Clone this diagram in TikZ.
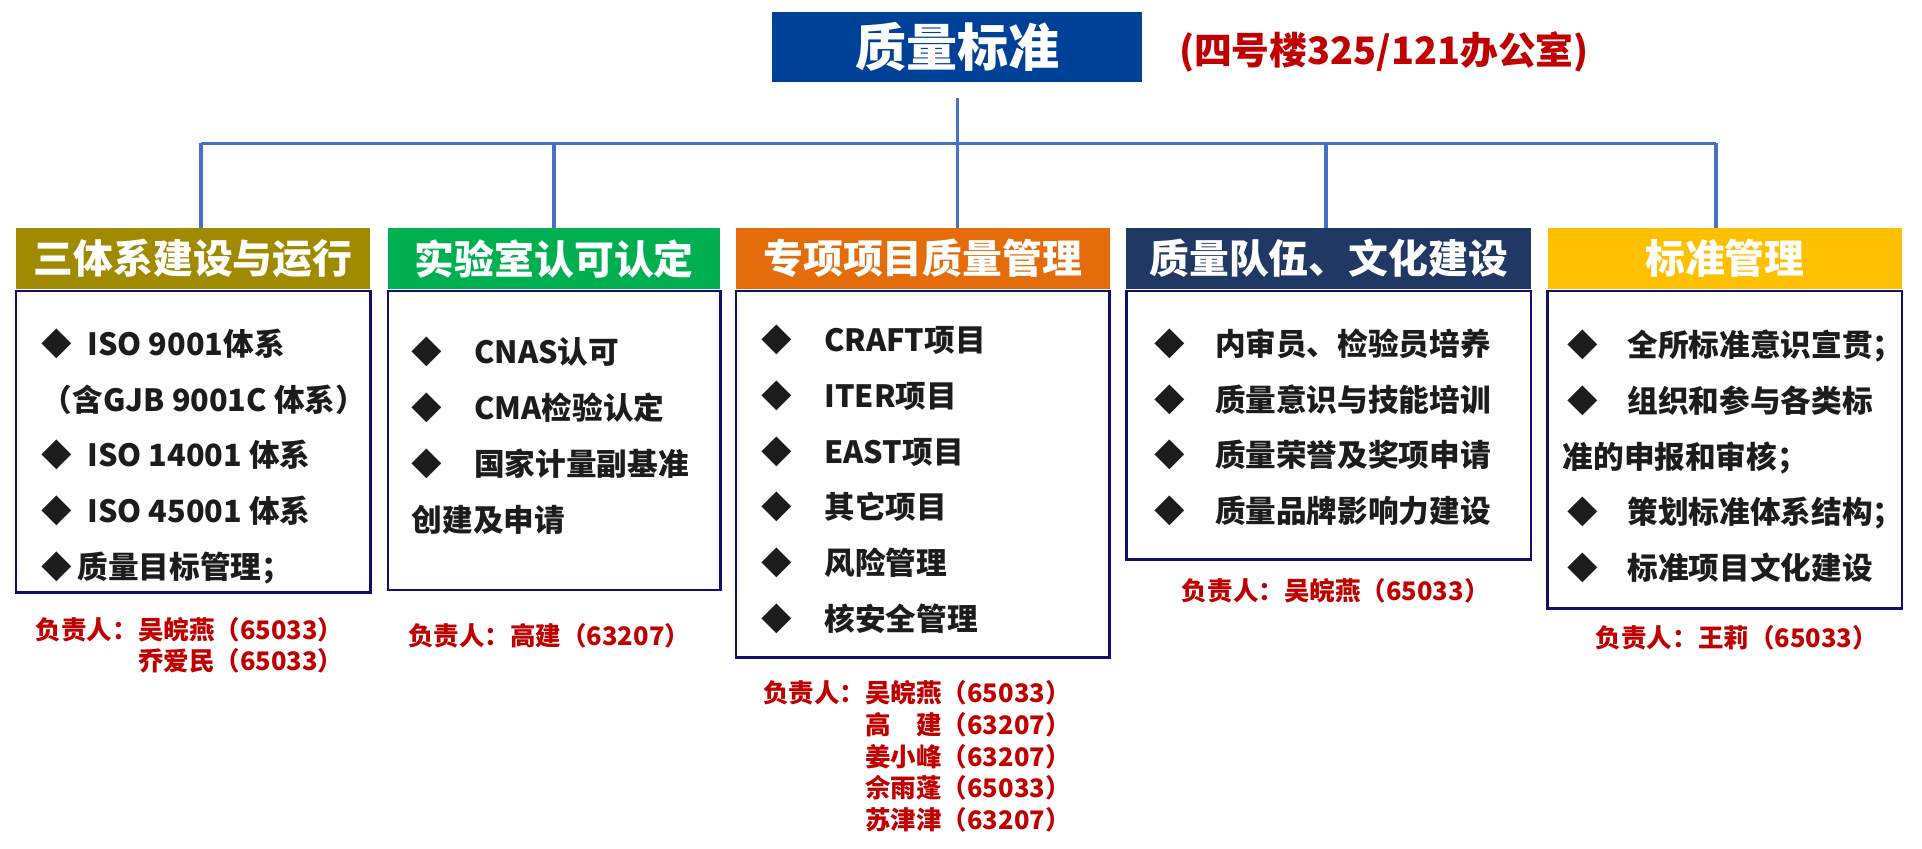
\documentclass[tikz,border=0pt]{standalone}
\usepackage{fontspec}
\setmainfont{Noto Sans CJK SC}
\usepackage{tikz}
\usetikzlibrary{positioning, backgrounds}
\definecolor{titleblue}{RGB}{0,65,152}
\definecolor{leadred}{RGB}{192,0,0}
\definecolor{linkblue}{RGB}{68,114,196}
\definecolor{olivehead}{RGB}{160,138,0}
\definecolor{labgreen}{RGB}{0,176,80}
\definecolor{projorange}{RGB}{228,108,10}
\definecolor{teamnavy}{RGB}{31,56,100}
\definecolor{stdgold}{RGB}{255,192,0}
\definecolor{boxnavy}{RGB}{15,15,110}
\definecolor{itemblack}{RGB}{28,28,28}
\tikzset{
    headbox/.style={
           rectangle,
           minimum height=30pt,
           inner sep=0pt,
           text=white,
           font=\fontsize{19.5}{20}\selectfont\bfseries,
           },
    titlebox/.style={headbox, fill=titleblue, minimum width=181.2pt, minimum height=34.2pt,
           font=\fontsize{25}{26}\selectfont\bfseries},
    roomnote/.style={text=leadred, inner sep=0pt, font=\fontsize{18.5}{19}\selectfont\bfseries},
    bodybox/.style={rectangle, draw=boxnavy, line width=1.3pt, fill=white, inner sep=0pt},
    itemtext/.style={align=left, inner sep=0pt, text=itemblack,
           font=\fontsize{15}{27.3}\selectfont\bfseries},
    leader/.style={align=left, inner sep=0pt, text=leadred,
           font=\fontsize{12.5}{15.5}\selectfont\bfseries},
    link/.style={draw=linkblue, line width=1.8pt},
}
\newcommand{\dmd}[1]{\makebox[#1][l]{◆}}

\begin{document}
\begin{tikzpicture}[x=0.6pt, y=-0.6pt]
  \useasboundingbox (0,0) rectangle (1568,692.6);
  \node[titlebox]              (title)  at (781,38.5)   {质量标准};
  \node[roomnote]              (room)   at (1129,42)    {(四号楼325/121办公室)};

  % branch headers
  \node[headbox, fill=olivehead,  minimum width=173.4pt] (h1) at (157.5,211) {三体系建设与运行};
  \node[headbox, fill=labgreen,   minimum width=162.6pt, right=8.4pt of h1] (h2) {实验室认可认定};
  \node[headbox, fill=projorange, minimum width=183pt,   right=7.2pt of h2] (h3) {专项项目质量管理};
  \node[headbox, fill=teamnavy,   minimum width=198pt,   right=7.8pt of h3] (h4) {质量队伍、文化建设};
  \node[headbox, fill=stdgold,    minimum width=173.4pt, right=7.8pt of h4] (h5) {标准管理};

  \begin{scope}[on background layer]
    \node[bodybox, minimum width=173.4pt, minimum height=147.6pt, below=0pt of h1] (b1) {};
    \node[bodybox, minimum width=162.6pt, minimum height=146.4pt, below=0pt of h2] (b2) {};
    \node[bodybox, minimum width=183pt,   minimum height=179.4pt, below=0pt of h3] (b3) {};
    \node[bodybox, minimum width=198pt,   minimum height=131.4pt, below=0pt of h4] (b4) {};
    \node[bodybox, minimum width=173.4pt, minimum height=155.4pt, below=0pt of h5] (b5) {};
  \end{scope}

  % connectors
  \coordinate (stem) at (781,80);
  \coordinate (bar)  at (781,117);
  \coordinate (barL) at (164,117);
  \coordinate (d2)   at (452,117);
  \coordinate (d4)   at (1082,117);
  \coordinate (barR) at (1400,117);
  \draw[link] (stem) -- (bar);
  \draw[link] (barL) -- (barR);
  \foreach \d/\h in {barL/h1, d2/h2, bar/h3, d4/h4, barR/h5}
    \draw[link] (\d) -- (\d |- \h.north);

  % items
  \node[itemtext, below right=18.9pt and 13.2pt of b1.north west] (t1)
    {\dmd{22.2pt}ISO 9001体系\\（含GJB 9001C 体系）\\\dmd{22.2pt}ISO 14001 体系\\
     \dmd{22.2pt}ISO 45001 体系\\\dmd{17.4pt}质量目标管理；};
  \node[itemtext, below right=23.1pt and 12pt of b2.north west] (t2)
    {\dmd{30.6pt}CNAS认可\\\dmd{30.6pt}CMA检验认定\\\dmd{30.6pt}国家计量副基准\\创建及申请};
  \node[itemtext, below right=17.1pt and 13.2pt of b3.north west] (t3)
    {\dmd{30.6pt}CRAFT项目\\\dmd{30.6pt}ITER项目\\\dmd{30.6pt}EAST项目\\
     \dmd{30.6pt}其它项目\\\dmd{30.6pt}风险管理\\\dmd{30.6pt}核安全管理};
  \node[itemtext, below right=18.9pt and 14.4pt of b4.north west] (t4)
    {\dmd{29.4pt}内审员、检验员培养\\\dmd{29.4pt}质量意识与技能培训\\
     \dmd{29.4pt}质量荣誉及奖项申请\\\dmd{29.4pt}质量品牌影响力建设};
  \node[itemtext, below right=19.5pt and 10.2pt of b5.north west] (t5)
    {\dmd{29.4pt}全所标准意识宣贯；\\\dmd{29.4pt}组织和参与各类标\\\hspace{-2.4pt}准的申报和审核；\\
     \dmd{29.4pt}策划标准体系结构；\\\dmd{29.4pt}标准项目文化建设};

  % people in charge
  \node[leader, below right=11.2pt and 10.2pt of b1.south west] (r1)
    {负责人：吴皖燕（65033）\\\hphantom{负责人：}乔爱民（65033）};
  \node[leader, below right=15.4pt and 10.2pt of b2.south west] (r2)
    {负责人：高建（63207）};
  \node[leader, below right=10.6pt and 13.8pt of b3.south west] (r3)
    {负责人：吴皖燕（65033）\\\hphantom{负责人：}高　建（63207）\\
     \hphantom{负责人：}姜小峰（63207）\\\hphantom{负责人：}佘雨蓬（65033）\\
     \hphantom{负责人：}苏津津（63207）};
  \node[leader, below right=8.2pt and 27.6pt of b4.south west] (r4)
    {负责人：吴皖燕（65033）};
  \node[leader, below right=7.6pt and 24pt of b5.south west] (r5)
    {负责人：王莉（65033）};
\end{tikzpicture}
\end{document}
